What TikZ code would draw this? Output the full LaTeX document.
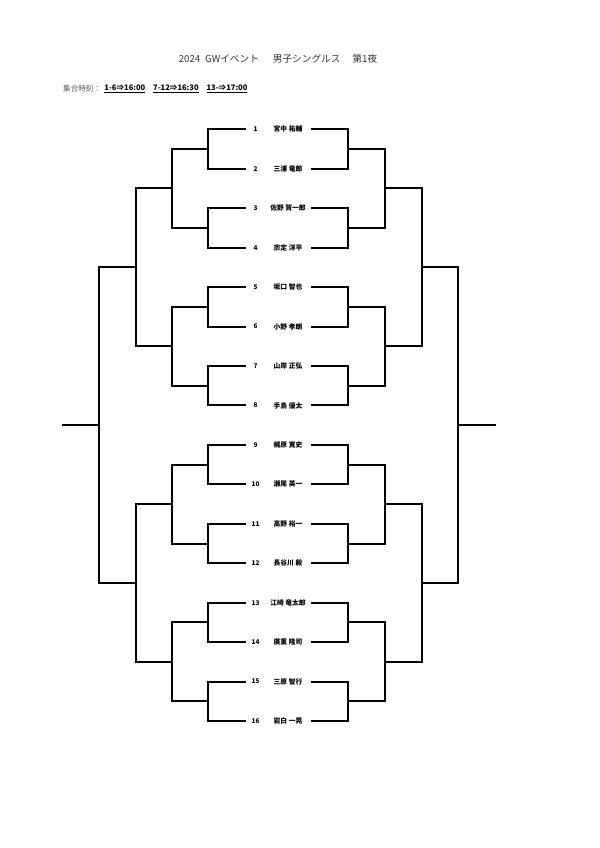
\documentclass[tikz,border=0pt]{standalone}
\usepackage{fontspec}
\setmainfont{Noto Sans CJK JP}
\newfontfamily\jp{Noto Sans CJK JP}
\tikzset{
  br/.style={line width=2bp, line join=miter, line cap=rect},
  num/.style={font=\jp\bfseries\fontsize{6.5}{7}\selectfont, inner sep=0pt, anchor=center},
  pname/.style={font=\jp\bfseries\fontsize{6.8}{7}\selectfont, inner sep=0pt, anchor=center},
}
\begin{document}
\begin{tikzpicture}[x=1bp,y=-1bp]
\useasboundingbox (0,0) rectangle (600,848);
\def\ya{129.3}\def\dy{39.45}
% title
\node[font=\jp\fontsize{9.7}{10}\selectfont, text=black!80, inner sep=0pt] (title) at (278,59)
  {2024\hspace{5pt}GWイベント\hspace{14pt}男子シングルス\hspace{12pt}第1夜};
\node[font=\jp\fontsize{7.6}{8}\selectfont, text=black!65, inner sep=0pt, anchor=west] (tlab) at (63,89) {集合時刻：};
\node[font=\jp\bfseries\fontsize{7.6}{8}\selectfont, inner sep=0pt, anchor=west] (ttime) at ([xshift=3pt]tlab.east)
  {\underline{1-6⇒16:00}\hspace{8pt}\underline{7-12⇒16:30}\hspace{8pt}\underline{13-⇒17:00}};
% players
\foreach \i/\nm in {1/宮中 祐輔,2/三浦 竜郎,3/佐野 賀一郎,4/宗定 洋平,5/坂口 智也,6/小野 孝朗,7/山岸 正弘,8/手島 優太,9/梶原 寛史,10/瀬尾 英一,11/高野 裕一,12/長谷川 毅,13/江崎 竜太郎,14/廣重 隆司,15/三原 智行,16/岩白 一晃}{
  \pgfmathsetmacro\yy{\ya+(\i-1)*\dy}
  \node[num] (n\i) at (255.5,\yy) {\i};
  \node[pname] (p\i) at (288,\yy) {\nm};
  \coordinate (L\i) at (245,\yy);
  \coordinate (R\i) at (312,\yy);
}
% round 1
\foreach \k in {1,...,8}{
  \pgfmathtruncatemacro\a{2*\k-1}\pgfmathtruncatemacro\b{2*\k}
  \pgfmathsetmacro\m{\ya+(2*\k-1.5)*\dy}
  \coordinate (la1-\k) at (172,\m);
  \coordinate (ra1-\k) at (385,\m);
  \draw[br] (L\a) -- (L\a -| 208,0) -- (L\b -| 208,0) -- (L\b);
  \draw[br] (208,\m) -- (la1-\k);
  \draw[br] (R\a) -- (R\a -| 348,0) -- (R\b -| 348,0) -- (R\b);
  \draw[br] (348,\m) -- (ra1-\k);
}
% round 2
\foreach \k in {1,...,4}{
  \pgfmathsetmacro\ta{\ya+(4*\k-3.5)*\dy}
  \pgfmathsetmacro\tb{\ya+(4*\k-1.5)*\dy}
  \pgfmathsetmacro\m{\ya+(4*\k-2.5)*\dy}
  \coordinate (la2-\k) at (136,\m);
  \coordinate (ra2-\k) at (422,\m);
  \draw[br] (172,\ta) -- (172,\tb);
  \draw[br] (172,\m) -- (la2-\k);
  \draw[br] (385,\ta) -- (385,\tb);
  \draw[br] (385,\m) -- (ra2-\k);
}
% round 3
\foreach \k in {1,2}{
  \pgfmathsetmacro\ta{\ya+(8*\k-6.5)*\dy}
  \pgfmathsetmacro\tb{\ya+(8*\k-2.5)*\dy}
  \pgfmathsetmacro\m{\ya+(8*\k-4.5)*\dy}
  \coordinate (la3-\k) at (99,\m);
  \coordinate (ra3-\k) at (458,\m);
  \draw[br] (136,\ta) -- (136,\tb);
  \draw[br] (136,\m) -- (la3-\k);
  \draw[br] (422,\ta) -- (422,\tb);
  \draw[br] (422,\m) -- (ra3-\k);
}
% final
\pgfmathsetmacro\mf{\ya+7.5*\dy}
\coordinate (lf) at (63,\mf);
\coordinate (rf) at (495,\mf);
\draw[br] (la3-1) -- (la3-2);
\draw[br] (99,\mf) -- (lf);
\draw[br] (ra3-1) -- (ra3-2);
\draw[br] (458,\mf) -- (rf);
\end{tikzpicture}
\end{document}
